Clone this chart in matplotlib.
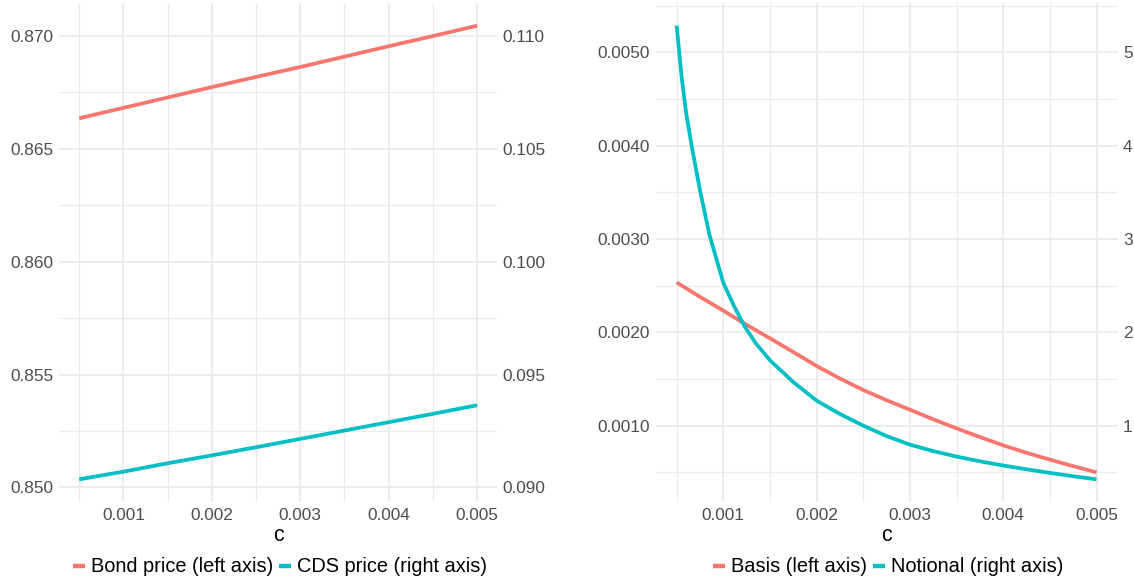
import matplotlib
matplotlib.use("Agg")
import matplotlib.pyplot as plt
from matplotlib.ticker import FixedLocator, FormatStrFormatter
from matplotlib.lines import Line2D

plt.rcParams['font.family'] = ['Liberation Sans', 'DejaVu Sans']

# ---------------- data ----------------
c_left = [0.0005, 0.001, 0.0015, 0.002, 0.0025, 0.003, 0.0035, 0.004, 0.0045, 0.005]
bond_price = [0.86635, 0.86681, 0.86727, 0.86773, 0.86818, 0.86862, 0.86908, 0.86954, 0.86999, 0.87045]
cds_price = [0.09036, 0.09070, 0.09107, 0.09142, 0.09178, 0.09215, 0.09252, 0.09289, 0.09326, 0.09364]

c_basis = [0.0005, 0.00075, 0.001, 0.00125, 0.0015, 0.00175, 0.002, 0.00225, 0.0025, 0.00275,
           0.003, 0.00325, 0.0035, 0.00375, 0.004, 0.00425, 0.0045, 0.00475, 0.005]
basis = [0.002535, 0.00238, 0.002232, 0.00208, 0.001936, 0.001789, 0.001639, 0.001505, 0.001382,
         0.001272, 0.001171, 0.001068, 0.000971, 0.000878, 0.000789, 0.000709, 0.000636,
         0.000566, 0.000500]

c_notional = [0.0005, 0.00055, 0.0006, 0.00066, 0.00075, 0.00085, 0.001, 0.00112, 0.00123,
              0.00135, 0.0015, 0.00175, 0.002, 0.00225, 0.0025, 0.00275, 0.003, 0.00325,
              0.0035, 0.00375, 0.004, 0.00425, 0.0045, 0.00475, 0.005]
notional = [5.286, 4.76, 4.36, 4.0, 3.52, 3.05, 2.53, 2.27, 2.06,
            1.88, 1.70, 1.467, 1.268, 1.125, 1.0, 0.888, 0.797, 0.727,
            0.669, 0.618, 0.573, 0.532, 0.494, 0.458, 0.425]

x_breaks = [0.001, 0.002, 0.003, 0.004, 0.005]
x_minor = [0.0005, 0.0015, 0.0025, 0.0035, 0.0045]
left_breaks_1 = [0.850, 0.855, 0.860, 0.865, 0.870]
left_minor_1 = [0.8525, 0.8575, 0.8625, 0.8675]
right_breaks_1 = [0.090, 0.095, 0.100, 0.105, 0.110]
left_breaks_2 = [0.0010, 0.0020, 0.0030, 0.0040, 0.0050]
left_minor_2 = [0.0005, 0.0015, 0.0025, 0.0035, 0.0045, 0.0055]
right_breaks_2 = [1, 2, 3, 4, 5]

shift_1 = 0.76      # CDS = primary - 0.76
scale_2 = 1000.0    # Notional = primary * 1000

RED = '#F8766D'
TEAL = '#00BFC4'
GRID = '#EBEBEB'
TXT = '#4D4D4D'
LW = 2.7
TICK_FS = 12.4
TITLE_FS = 15.5
LEG_FS = 14.4

W, H = 1134, 579
fig = plt.figure(figsize=(W / 100, H / 100), dpi=100)


def expand(lo, hi, f=0.05):
    d = hi - lo
    return lo - f * d, hi + f * d


def style(ax, xmaj, xmin, ymaj, ymin):
    ax.set_facecolor('white')
    for s in ax.spines.values():
        s.set_visible(False)
    ax.xaxis.set_major_locator(FixedLocator(xmaj))
    ax.xaxis.set_minor_locator(FixedLocator(xmin))
    ax.yaxis.set_major_locator(FixedLocator(ymaj))
    ax.yaxis.set_minor_locator(FixedLocator(ymin))
    ax.grid(True, which='major', color=GRID, linewidth=1.3)
    ax.grid(True, which='minor', color=GRID, linewidth=0.8)
    ax.set_axisbelow(True)
    ax.tick_params(which='both', length=0, labelsize=TICK_FS, labelcolor=TXT)
    ax.tick_params(axis='x', pad=4)
    ax.tick_params(axis='y', pad=4)


def make_panel(rect, xs1, ys1, xs2, ys2, fwd, inv, lbreaks, lminor, rbreaks, lfmt, rfmt,
               labels):
    ax = fig.add_axes(rect)
    xlo, xhi = expand(min(xs1 + xs2), max(xs1 + xs2))
    prim2 = [inv(v) for v in ys2]
    ylo, yhi = expand(min(ys1 + prim2), max(ys1 + prim2))
    style(ax, x_breaks, x_minor, lbreaks, lminor)
    ax.plot(xs1, ys1, color=RED, linewidth=LW, solid_capstyle='butt',
            solid_joinstyle='round', zorder=3)
    ax.set_xlim(xlo, xhi)
    ax.set_ylim(ylo, yhi)
    ax.xaxis.set_major_formatter(FormatStrFormatter('%.3f'))
    ax.yaxis.set_major_formatter(FormatStrFormatter(lfmt))

    tw = ax.twinx()
    for s in tw.spines.values():
        s.set_visible(False)
    tw.patch.set_visible(False)
    tw.plot(xs2, ys2, color=TEAL, linewidth=LW, solid_capstyle='butt',
            solid_joinstyle='round', zorder=3)
    tw.set_ylim(fwd(ylo), fwd(yhi))
    tw.yaxis.set_major_locator(FixedLocator(rbreaks))
    tw.yaxis.set_major_formatter(FormatStrFormatter(rfmt))
    tw.tick_params(which='both', length=0, labelsize=TICK_FS, labelcolor=TXT, pad=4)
    tw.set_xlim(xlo, xhi)

    cx = rect[0] + rect[2] / 2
    fig.text(cx, 1 - 541 / H, 'c', ha='center', va='baseline', fontsize=TITLE_FS, color='black')
    handles = [Line2D([], [], color=RED, linewidth=3.2, solid_capstyle='butt'),
               Line2D([], [], color=TEAL, linewidth=3.2, solid_capstyle='butt')]
    fig.legend(handles, labels, loc='center', bbox_to_anchor=(cx + 2 / W, 1 - 567 / H), ncol=2,
               frameon=False, fontsize=LEG_FS, handlelength=0.6, handletextpad=0.3,
               columnspacing=0.3, borderpad=0, borderaxespad=0)
    return ax


top_px, bot_px = 3.0, 502.0
rect1 = [59.3 / W, 1 - bot_px / H, (497.0 - 59.3) / W, (bot_px - top_px) / H]
rect2 = [655.7 / W, 1 - bot_px / H, (1117.5 - 655.7) / W, (bot_px - top_px) / H]

make_panel(rect1, c_left, bond_price, c_left, cds_price,
           lambda v: v - shift_1, lambda v: v + shift_1,
           left_breaks_1, left_minor_1, right_breaks_1, '%.3f', '%.3f',
           ['Bond price (left axis)', 'CDS price (right axis)'])

make_panel(rect2, c_basis, basis, c_notional, notional,
           lambda v: v * scale_2, lambda v: v / scale_2,
           left_breaks_2, left_minor_2, right_breaks_2, '%.4f', '%d',
           ['Basis (left axis)', 'Notional (right axis)'])

fig.savefig('out.png', dpi=100, facecolor='white')
